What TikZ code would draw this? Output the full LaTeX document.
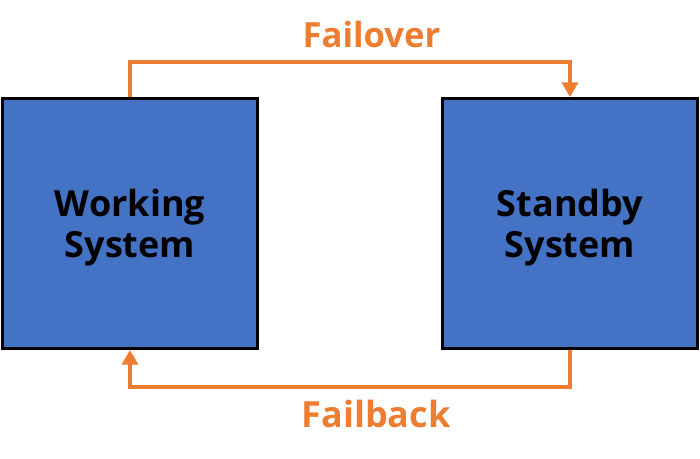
\documentclass[tikz,border=0pt]{standalone}
\usepackage{fontspec}
\setmainfont{Open Sans}
\usetikzlibrary{arrows.meta}

\definecolor{sysblue}{HTML}{4472C4}
\definecolor{linkorange}{HTML}{ED7D31}

\begin{document}
\begin{tikzpicture}[x=0.75pt, y=-0.75pt,
  sysbox/.style={draw=black, line width=2pt, fill=sysblue,
    minimum width=191.5pt, minimum height=187.75pt, inner sep=0pt,
    text depth=0pt, align=center, font=\fontsize{27}{31}\selectfont\bfseries},
  link/.style={draw=linkorange, line width=3pt,
    -{Triangle[width=12pt, length=11pt]}},
  linklabel/.style={text=linkorange, anchor=base, inner sep=0pt,
    font=\fontsize{26}{30}\selectfont\bfseries}]
  \useasboundingbox (0,0) rectangle (700,458);

  % the two systems
  \node[sysbox] (work) at (130, 223.5) {Working\\System};
  \node[sysbox] (stby) at (570, 223.5) {Standby\\System};

  % failover above, failback below
  \draw[link] (work.north) -- ++(0,-35) -| (stby.north);
  \draw[link] (stby.south) -- ++(0,37) -| (work.south);

  \node[linklabel] (over) at (371.5, 47.7) {Failover};
  \node[linklabel, font=\fontsize{27}{30}\selectfont\bfseries] (back) at (376, 427) {Failback};

\end{tikzpicture}
\end{document}
